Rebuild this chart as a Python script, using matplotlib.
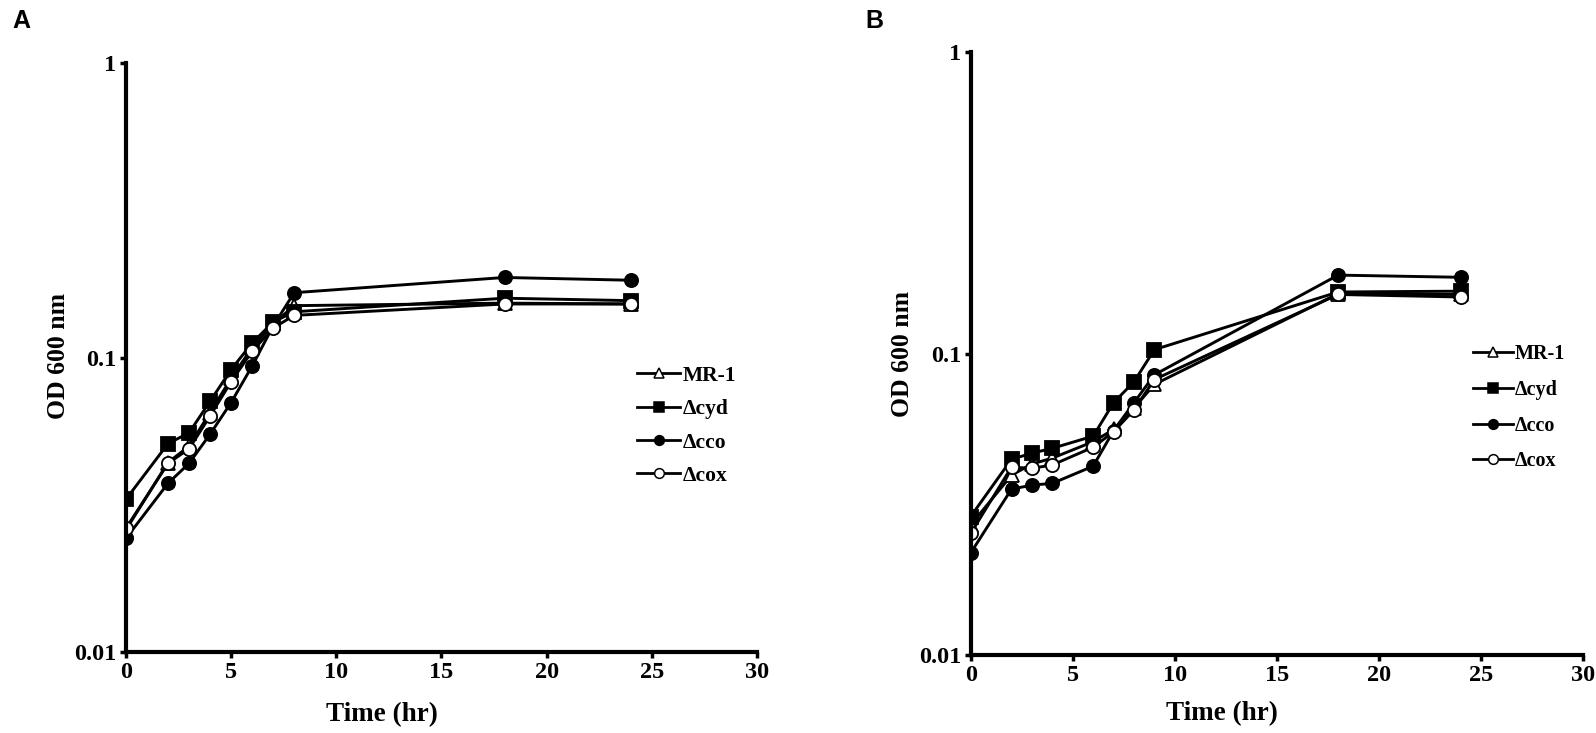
import matplotlib
matplotlib.use("Agg")
import matplotlib.pyplot as plt
from matplotlib.lines import Line2D

# Panel A time points and OD600 readings
time_a = [0, 2, 3, 4, 5, 6, 7, 8, 18, 24]
mr1_a = [0.026, 0.044, 0.050, 0.065, 0.085, 0.108, 0.130, 0.150, 0.153, 0.152]
cyd_a = [0.033, 0.051, 0.0555, 0.071, 0.091, 0.112, 0.132, 0.143, 0.159, 0.156]
cco_a = [0.0243, 0.0374, 0.0437, 0.0549, 0.0703, 0.0936, 0.128, 0.166, 0.187, 0.183]
cox_a = [0.0263, 0.0437, 0.049, 0.0633, 0.0828, 0.105, 0.126, 0.139, 0.152, 0.152]

# Panel B time points and OD600 readings
time_b = [0, 2, 3, 4, 6, 7, 8, 9, 18, 24]
mr1_b = [0.027, 0.0395, 0.043, 0.045, 0.051, 0.056, 0.066, 0.079, 0.158, 0.157]
cyd_b = [0.0288, 0.0446, 0.0467, 0.0485, 0.0532, 0.0687, 0.0806, 0.103, 0.160, 0.161]
cco_b = [0.0218, 0.0355, 0.0366, 0.0371, 0.0423, 0.0555, 0.0687, 0.085, 0.182, 0.179]
cox_b = [0.0253, 0.042, 0.0416, 0.0427, 0.0489, 0.055, 0.065, 0.082, 0.157, 0.154]

labels = ["MR-1", "\u0394cyd", "\u0394cco", "\u0394cox"]
x_ticks = [0, 5, 10, 15, 20, 25, 30]
y_ticks = [0.01, 0.1, 1]
y_ticklabels = ["0.01", "0.1", "1"]

SERIF = ["Liberation Serif", "DejaVu Serif"]
plt.rcParams.update({
    "font.family": SERIF,
    "font.weight": "bold",
    "axes.labelweight": "bold",
})

STYLES = [
    dict(marker="^", markerfacecolor="white"),
    dict(marker="s", markerfacecolor="black"),
    dict(marker="o", markerfacecolor="black"),
    dict(marker="o", markerfacecolor="white"),
]

fig = plt.figure(figsize=(15.96, 7.33), dpi=100)
ax_a = fig.add_axes([0.0789, 0.1105, 0.3954, 0.8035])
ax_b = fig.add_axes([0.6082, 0.1064, 0.3837, 0.8226])


def draw(ax, t, series, leg_anchor, spacing, leg_size):
    for ys, st, lab in zip(series, STYLES, labels):
        ax.plot(t, ys, color="black", lw=2.1, ms=9.5, markeredgecolor="black",
                markeredgewidth=1.3, label=lab, **st)
    ax.set_yscale("log")
    ax.set_ylim(0.01, 1)
    ax.set_xlim(0, 30)
    ax.set_xticks(x_ticks)
    ax.set_xticklabels([str(v) for v in x_ticks])
    ax.set_yticks(y_ticks)
    ax.set_yticklabels(y_ticklabels)
    ax.minorticks_off()
    ax.tick_params(labelsize=17.5, length=4, width=2.5, direction="out", pad=3)
    for s in ("top", "right"):
        ax.spines[s].set_visible(False)
    for s in ("left", "bottom"):
        ax.spines[s].set_linewidth(3)
    ax.set_xlabel("Time (hr)", fontsize=19.5)
    ax.set_ylabel("OD 600 nm", fontsize=18.5)
    handles = [Line2D([], [], color="black", lw=2.0, ms=7,
                      markeredgecolor="black", markeredgewidth=1.1, **st)
               for st in STYLES]
    ax.legend(handles, labels, loc="center left", bbox_to_anchor=leg_anchor,
              frameon=False, fontsize=leg_size, handlelength=2.0,
              handletextpad=0.1, labelspacing=spacing, borderaxespad=0,
              borderpad=0)


draw(ax_a, time_a, [mr1_a, cyd_a, cco_a, cox_a], (0.81, 0.384), 0.62, 15.5)
draw(ax_b, time_b, [mr1_b, cyd_b, cco_b, cox_b], (0.82, 0.41), 0.78, 14.5)

ax_a.xaxis.set_label_coords(0.406, -0.085)
ax_b.xaxis.set_label_coords(0.411, -0.077)
ax_a.yaxis.set_label_coords(-0.088, 0.503)
ax_b.yaxis.set_label_coords(-0.092, 0.5)

fig.text(0.008, 0.972, "A", fontsize=18, fontweight="bold",
         family=["Liberation Sans", "DejaVu Sans"], va="center")
fig.text(0.542, 0.972, "B", fontsize=18, fontweight="bold",
         family=["Liberation Sans", "DejaVu Sans"], va="center")

fig.savefig("out.png", dpi=100)
